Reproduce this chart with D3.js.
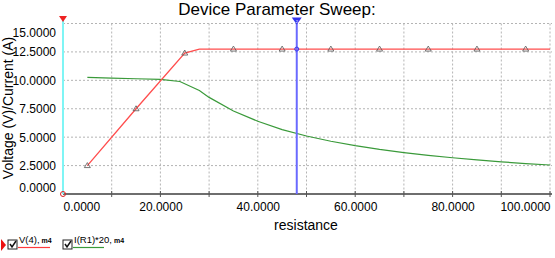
<!DOCTYPE html>
<html>
<head>
<meta charset="utf-8">
<script src="https://cdn.jsdelivr.net/npm/d3@7"></script>
<style>
  body { margin: 0; background: #fff; }
  svg { display: block; font-family: "Liberation Sans", Arial, sans-serif; }
</style>
</head>
<body>
<div id="chart"></div>
<script>
// sweep values (resistance) and the two traces
const vResistance = [5, 15, 25, 28, 35, 45, 55, 65, 75, 85, 95, 100];
const vValues = [2.5, 7.5, 12.4, 12.75, 12.75, 12.75, 12.75, 12.75, 12.75, 12.75, 12.75, 12.75];
const markerResistance = [5, 15, 25, 35, 45, 55, 65, 75, 85, 95];
const markerValues = [2.5, 7.5, 12.4, 12.75, 12.75, 12.75, 12.75, 12.75, 12.75, 12.75];

const iResistance = [5, 10, 15, 20, 24, 28, 30, 35, 40, 45, 50, 55, 60, 65, 70, 75, 80, 85, 90, 95, 100];
const iValues = [10.26, 10.2, 10.14, 10.08, 9.9, 9.1, 8.5, 7.3, 6.4, 5.67, 5.1, 4.64, 4.25, 3.92, 3.64, 3.4, 3.19, 3.0, 2.83, 2.68, 2.55];

const xTicks = [0, 20, 40, 60, 80, 100];
const xGrid = [10, 20, 30, 40, 50, 60, 70, 80, 90, 100];
const yTicks = [0, 2.5, 5, 7.5, 10, 12.5, 15];
const cursorX = 48;
const legendItems = ['V(4),', 'I(R1)*20,'];

const width = 555, height = 258;
const svg = d3.select('#chart').append('svg')
    .attr('width', width)
    .attr('height', height);

const x = d3.scaleLinear().domain([0, 100]).range([63, 550]);
const y = d3.scaleLinear().domain([0, 15]).range([194, 23.5]);
const fmt = d3.format('.4f');

// title
svg.append('text')
    .attr('x', 277).attr('y', 15)
    .attr('text-anchor', 'middle')
    .style('font-size', '17px')
    .text('Device Parameter Sweep:');

// grid
svg.append('g').selectAll('line')
    .data(xGrid)
    .enter().append('line')
    .attr('x1', d => x(d)).attr('x2', d => x(d))
    .attr('y1', y(15)).attr('y2', y(0))
    .attr('stroke', '#b4b4b4').attr('stroke-dasharray', '2,2');

svg.append('g').selectAll('line')
    .data(yTicks.filter(d => d > 0))
    .enter().append('line')
    .attr('x1', x(0)).attr('x2', 552)
    .attr('y1', d => y(d)).attr('y2', d => y(d))
    .attr('stroke', '#b4b4b4').attr('stroke-dasharray', '2,2');

// y axis labels
const yAxis = svg.append('g')
    .attr('transform', 'translate(56,0)')
    .call(d3.axisLeft(y).tickValues(yTicks).tickSize(0).tickFormat(fmt));
yAxis.select('.domain').remove();
yAxis.selectAll('text')
    .attr('x', 0)
    .style('font-size', '12px')
    .style('font-family', '"Liberation Sans", Arial, sans-serif')
    .attr('dy', d => d === 15 ? '1.05em' : (d === 0 ? '-0.25em' : '0.32em'));

// x axis labels
const xAxis = svg.append('g')
    .attr('transform', `translate(0,${y(0)})`)
    .call(d3.axisBottom(x).tickValues(xTicks).tickSize(0).tickFormat(fmt));
xAxis.select('.domain').remove();
xAxis.selectAll('text')
    .attr('y', 8)
    .style('font-size', '12px')
    .style('font-family', '"Liberation Sans", Arial, sans-serif')
    .attr('text-anchor', d => d === 0 ? 'start' : (d === 100 ? 'end' : 'middle'));

// bottom axis line with small ticks
svg.append('line')
    .attr('x1', x(0)).attr('x2', 552)
    .attr('y1', y(0)).attr('y2', y(0))
    .attr('stroke', '#6e6e6e').attr('stroke-width', 2);
svg.append('g').selectAll('line')
    .data(xGrid)
    .enter().append('line')
    .attr('x1', d => x(d)).attr('x2', d => x(d))
    .attr('y1', y(0) - 3).attr('y2', y(0) + 3)
    .attr('stroke', '#555');

// axis titles
svg.append('text')
    .attr('x', 306).attr('y', 230)
    .attr('text-anchor', 'middle')
    .style('font-size', '14px')
    .text('resistance');

svg.append('text')
    .attr('transform', 'translate(13,108) rotate(-90)')
    .attr('text-anchor', 'middle')
    .style('font-size', '14px')
    .text('Voltage (V)/Current (A)');

// left axis (cyan)
svg.append('line')
    .attr('x1', x(0)).attr('x2', x(0))
    .attr('y1', 19).attr('y2', y(0))
    .attr('stroke', '#7ff5f5').attr('stroke-width', 2);
svg.append('path')
    .attr('d', `M${x(0) - 4},16 L${x(0) + 4},16 L${x(0)},22 Z`)
    .attr('fill', '#ee2222');
svg.append('circle')
    .attr('cx', x(0)).attr('cy', y(0)).attr('r', 2.5)
    .attr('fill', 'none').attr('stroke', '#dd2222');

// traces
const line = d3.line().x(d => x(d[0])).y(d => y(d[1]));

svg.append('path')
    .datum(iResistance.map((r, i) => [r, iValues[i]]))
    .attr('d', line)
    .attr('fill', 'none')
    .attr('stroke', '#3a9a3a')
    .attr('stroke-width', 1.2);

svg.append('path')
    .datum(vResistance.map((r, i) => [r, vValues[i]]))
    .attr('d', line)
    .attr('fill', 'none')
    .attr('stroke', '#ff4d4d')
    .attr('stroke-width', 1.3);

// triangle markers on V(4)
svg.append('g').selectAll('path')
    .data(markerResistance.map((r, i) => [r, markerValues[i]]))
    .enter().append('path')
    .attr('d', d => `M${x(d[0])},${y(d[1]) - 3} L${x(d[0]) + 3},${y(d[1]) + 2} L${x(d[0]) - 3},${y(d[1]) + 2} Z`)
    .attr('fill', 'none')
    .attr('stroke', '#555')
    .attr('stroke-width', 0.8);

// cursor
svg.append('line')
    .attr('x1', x(cursorX)).attr('x2', x(cursorX))
    .attr('y1', 19).attr('y2', y(0))
    .attr('stroke', '#6a6aff').attr('stroke-width', 2);
svg.append('path')
    .attr('d', `M${x(cursorX) - 5},17.5 L${x(cursorX) + 5},17.5 L${x(cursorX)},24.5 Z`)
    .attr('fill', '#3333ee');
svg.append('text')
    .attr('x', x(cursorX)).attr('y', 22.5)
    .attr('text-anchor', 'middle')
    .style('font-size', '4px')
    .attr('fill', '#fff')
    .text('2');
svg.append('circle')
    .attr('cx', x(cursorX)).attr('cy', y(12.75)).attr('r', 2)
    .attr('fill', 'none').attr('stroke', '#3333ee');

// legend
const legendX = [18, 73];
const legendColors = ['#ff3b3b', '#3a9a3a'];
const legendLine = [32, 31];

svg.append('path')
    .attr('d', 'M1,239 L6,245 L1,251 Z')
    .attr('fill', '#ee1111');

legendItems.forEach((label, i) => {
    const lx = legendX[i];
    // checkbox
    svg.append('rect')
        .attr('x', lx - 10).attr('y', 240)
        .attr('width', 9).attr('height', 9)
        .attr('fill', '#fff').attr('stroke', '#222');
    svg.append('path')
        .attr('d', `M${lx - 8},244 L${lx - 6},247 L${lx - 2},241`)
        .attr('fill', 'none').attr('stroke', '#111').attr('stroke-width', 1.5);
    const t = svg.append('text')
        .attr('x', lx + 1).attr('y', 243)
        .style('font-size', '9.5px');
    t.append('tspan').text(label);
    t.append('tspan').style('font-size', '7px').style('font-weight', 'bold').text(' m4');
    svg.append('line')
        .attr('x1', lx).attr('x2', lx + legendLine[i])
        .attr('y1', 247.5).attr('y2', 247.5)
        .attr('stroke', legendColors[i]).attr('stroke-width', 1.2);
});
</script>
</body>
</html>
